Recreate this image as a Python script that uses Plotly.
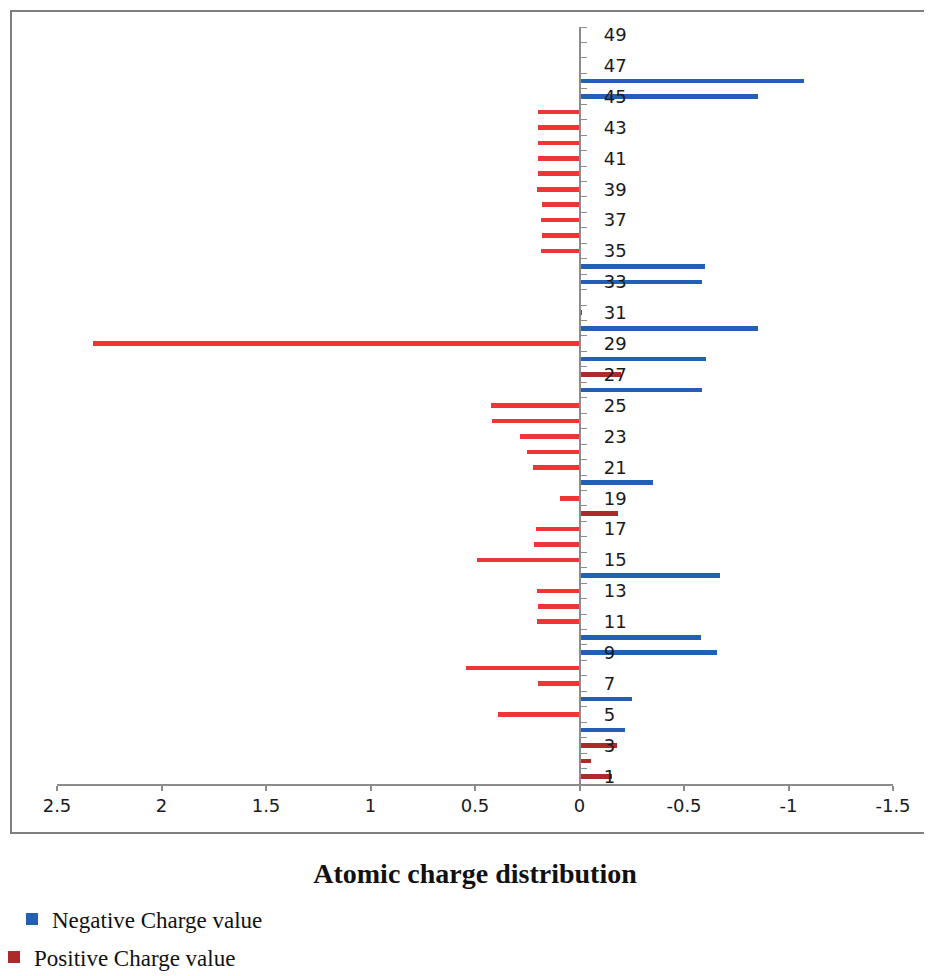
import plotly.graph_objects as go

# ---------------- data ----------------
atoms = list(range(1, 50))

# Negative charge values (blue bars), None where the atom has no blue bar
negative_charge = [
    None, None, None, -0.218, None, -0.249, None, None, -0.658, -0.580,   # 1-10
    None, None, None, -0.672, None, None, None, None, None, -0.350,       # 11-20
    None, None, None, None, None, -0.588, None, -0.607, None, -0.856,     # 21-30
    None, None, -0.588, -0.599, None, None, None, None, None, None,       # 31-40
    None, None, None, None, -0.856, -1.074, None, None, None,             # 41-49
]

# Positive charge series (red bars), None where the atom has no red bar
positive_charge = [
    -0.155, -0.057, -0.180, None, 0.388, None, 0.197, 0.544, None, None,  # 1-10
    0.203, 0.197, 0.203, None, 0.489, 0.216, 0.209, -0.184, 0.091, None,  # 11-20
    0.222, 0.250, 0.287, 0.417, 0.423, None, -0.200, None, 2.329, None,   # 21-30
    -0.010, -0.005, None, None, 0.183, 0.180, 0.185, 0.180, 0.204, 0.198, # 31-40
    0.198, 0.198, 0.198, 0.198, None, None, None, None, None,             # 41-49
]

x_tick_vals = [2.5, 2, 1.5, 1, 0.5, 0, -0.5, -1, -1.5]
x_tick_text = ["2.5", "2", "1.5", "1", "0.5", "0", "-0.5", "-1", "-1.5"]
y_tick_vals = list(range(1, 50, 2))

# ---------------- styling ----------------
BLUE = "#2360b5"
RED = "#ef3535"
DARK_RED = "#ad2a2a"
AXIS_GREY = "#8c8c8c"
TICK_FONT = dict(family="DejaVu Sans", size=18, color="#1a1a1a")
SERIF = "Liberation Serif"

pos_colors = [
    (RED if (v is not None and v > 0) else DARK_RED) for v in positive_charge
]

fig = go.Figure()
fig.add_trace(go.Bar(
    x=negative_charge, y=atoms, orientation="h", width=0.3,
    name="Negative Charge value", marker=dict(color=BLUE, line=dict(width=0)),
    legend="legend",
))
fig.add_trace(go.Bar(
    x=positive_charge, y=atoms, orientation="h", width=0.3,
    name="Positive Charge value", marker=dict(color=pos_colors, line=dict(width=0)),
    legend="legend2",
))

# The page body adds an 8px margin, so the figure is sized and laid out
# in screen pixels minus that offset.
OFF = 8
W, H = 932 - OFF, 976 - OFF
PL, PR, PT, PB = 57, 893, 27, 784          # plot area in screen pixels
L, R, T, B = PL - OFF, W - (PR - OFF), PT - OFF, H - (PB - OFF)
plot_w = W - L - R
plot_h = H - T - B

def px_x(p):
    return (p - OFF - L) / plot_w

def px_y(p):
    return (H - B - (p - OFF)) / plot_h

zero_pos = (0 - x_tick_vals[0]) / (x_tick_vals[-1] - x_tick_vals[0])

fig.update_layout(
    width=W, height=H,
    margin=dict(l=L, r=R, t=T, b=B, autoexpand=False),
    paper_bgcolor="white", plot_bgcolor="white",
    barmode="overlay",
    bargap=0,
    xaxis=dict(
        range=[x_tick_vals[0], x_tick_vals[-1]],
        tickmode="array", tickvals=x_tick_vals, ticktext=x_tick_text,
        showgrid=False, zeroline=False, automargin=False,
        showline=True, linecolor=AXIS_GREY, linewidth=1.5,
        ticks="outside", ticklen=5, tickcolor=AXIS_GREY, tickwidth=1.5,
        tickfont=TICK_FONT,
        title=dict(text="<b>Atomic charge distribution</b>",
                   font=dict(family=SERIF, size=28, color="#111111"),
                   standoff=48),
    ),
    yaxis=dict(
        range=[0.5, 49.5],
        anchor="free", position=zero_pos, side="right", automargin=False,
        tickmode="array", tickvals=y_tick_vals,
        showgrid=False, zeroline=False,
        showline=True, linecolor=AXIS_GREY, linewidth=1.5,
        ticks="outside", ticklen=0,
        ticklabelstandoff=20,
        tickfont=TICK_FONT,
        minor=dict(tickmode="linear", tick0=0.5, dtick=1,
                   ticks="outside", ticklen=7, tickcolor=AXIS_GREY, tickwidth=1.2,
                   showgrid=False),
    ),
    legend=dict(
        x=px_x(12), y=px_y(919), xanchor="left", yanchor="middle",
        font=dict(family=SERIF, size=23, color="#111111"),
        bgcolor="rgba(0,0,0,0)",
    ),
    legend2=dict(
        x=px_x(-6), y=px_y(957), xanchor="left", yanchor="middle",
        font=dict(family=SERIF, size=23, color="#111111"),
        bgcolor="rgba(0,0,0,0)",
    ),
    showlegend=True,
    shapes=[dict(
        type="rect", xref="paper", yref="paper",
        x0=px_x(11), x1=px_x(945), y0=px_y(833), y1=px_y(11),
        line=dict(color="#7f7f7f", width=2), fillcolor="rgba(0,0,0,0)",
        layer="below",
    )],
)

fig.write_html("out.html")
